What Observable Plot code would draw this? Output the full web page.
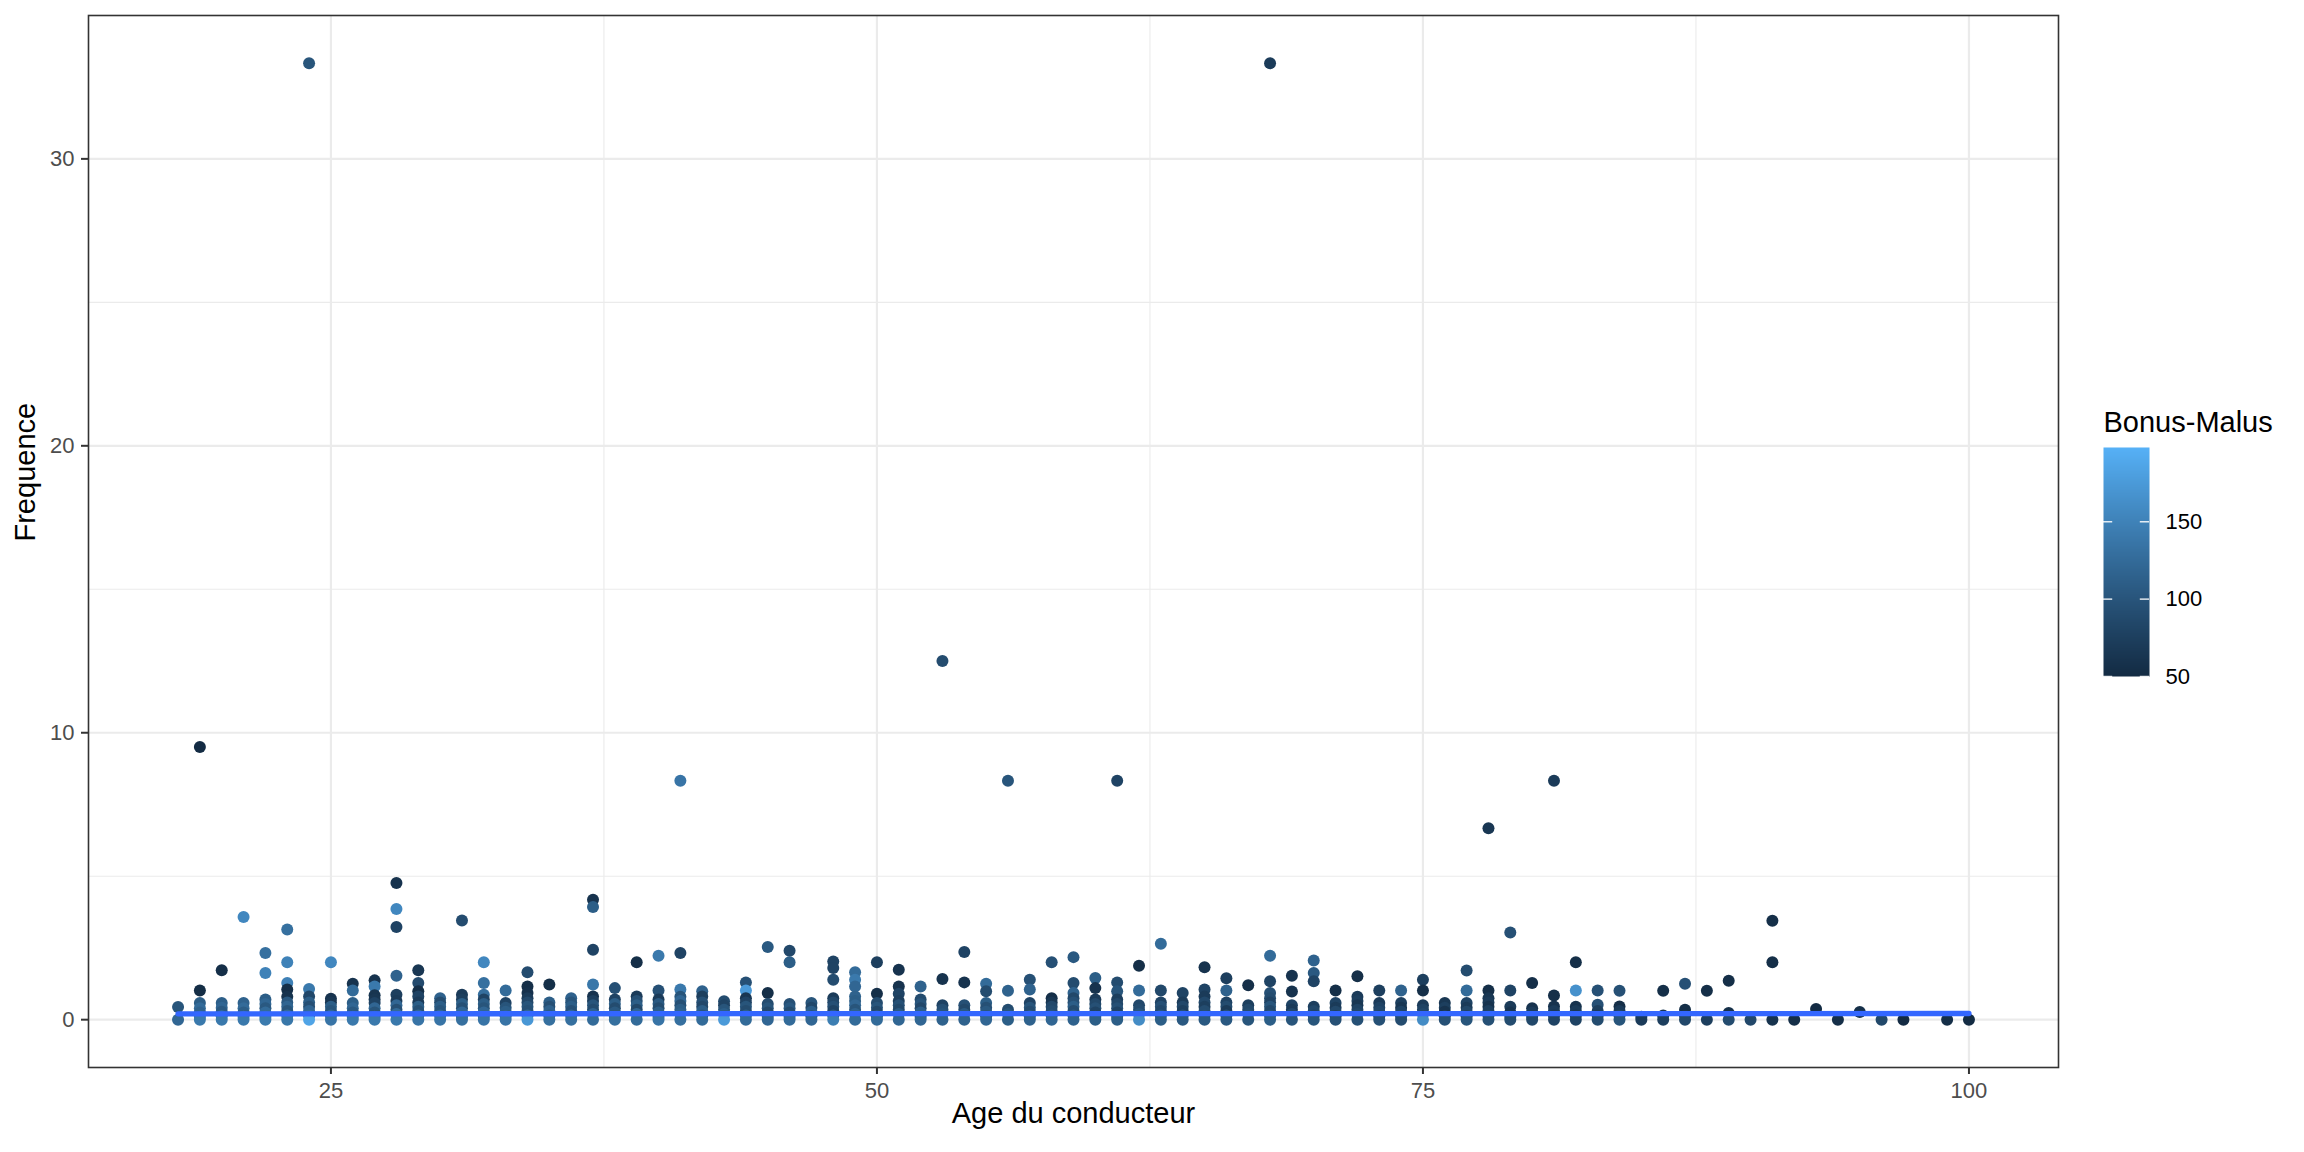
<!DOCTYPE html>
<html><head><meta charset="utf-8">
<script src="https://cdn.jsdelivr.net/npm/d3@7"></script>
<script src="https://cdn.jsdelivr.net/npm/@observablehq/plot@0.6"></script>
<style>
html,body{margin:0;padding:0;background:#fff;}
#wrap{position:relative;width:2304px;height:1152px;}
#legend{position:absolute;left:2080px;top:390px;}
</style></head><body><div id="wrap"><div id="main"></div><div id="legend"></div></div>
<script>
// Age du conducteur (one entry per column of points)
const ages = [18,19,20,21,22,23,24,25,26,27,28,29,30,31,32,33,34,35,36,37,38,39,40,41,42,43,44,45,46,47,48,49,50,51,52,53,54,55,56,57,58,59,60,61,62,63,64,65,66,67,68,69,70,71,72,73,74,75,76,77,78,79,80,81,82,83,84,85,86,87,88,89,90,91,92,93,94,95,96,97,99,100];
// Frequence values for each age
const freqByAge = [
 [0.44,0],
 [9.5,1.02,0.58,0.4,0.25,0.1,0],
 [1.72,0.58,0.42,0.28,0.12,0],
 [3.58,0.58,0.4,0.25,0.1,0],
 [2.32,1.63,0.7,0.55,0.4,0.25,0.1,0],
 [3.14,2.0,1.28,1.05,0.8,0.6,0.45,0.3,0.15,0],
 [33.33,1.07,0.81,0.6,0.45,0.3,0.15,0],
 [2.0,0.73,0.6,0.45,0.3,0.15,0],
 [1.25,1.02,0.58,0.4,0.25,0.1,0],
 [1.37,1.16,0.85,0.7,0.58,0.4,0.25,0.1,0],
 [4.76,3.86,3.23,1.53,0.87,0.65,0.5,0.35,0.2,0],
 [1.72,1.28,0.99,0.81,0.6,0.45,0.3,0.15,0],
 [0.75,0.6,0.45,0.3,0.15,0],
 [3.46,0.87,0.7,0.55,0.4,0.25,0.1,0],
 [2.0,1.28,0.87,0.7,0.55,0.4,0.25,0.1,0],
 [1.02,0.58,0.42,0.28,0.12,0],
 [1.65,1.16,0.93,0.75,0.6,0.45,0.3,0.15,0],
 [1.23,0.6,0.45,0.3,0.15,0],
 [0.75,0.6,0.45,0.3,0.15,0],
 [4.18,3.93,2.44,1.23,0.81,0.65,0.5,0.35,0.2,0],
 [1.1,0.7,0.55,0.4,0.25,0.1,0],
 [2.0,0.81,0.65,0.5,0.35,0.2,0],
 [2.23,1.02,0.7,0.55,0.4,0.25,0.1,0],
 [8.33,2.32,1.05,0.8,0.65,0.5,0.35,0.2,0],
 [0.99,0.81,0.6,0.45,0.3,0.15,0],
 [0.64,0.5,0.35,0.2,0],
 [1.3,1.02,0.75,0.6,0.45,0.3,0.15,0],
 [2.53,0.93,0.55,0.4,0.25,0.1,0],
 [2.4,2.0,0.55,0.4,0.25,0.1,0],
 [0.58,0.42,0.28,0.12,0],
 [2.03,1.8,1.39,0.75,0.6,0.45,0.3,0.15,0],
 [1.65,1.39,1.16,0.81,0.65,0.5,0.35,0.2,0],
 [2.0,0.9,0.58,0.42,0.28,0.12,0],
 [1.74,1.16,0.9,0.65,0.5,0.35,0.2,0],
 [1.16,0.7,0.55,0.4,0.25,0.1,0],
 [12.5,1.42,0.5,0.35,0.2,0],
 [2.36,1.3,0.5,0.35,0.2,0],
 [1.25,0.99,0.58,0.42,0.28,0.12,0],
 [8.33,1.01,0.35,0.2,0],
 [1.39,1.05,0.58,0.42,0.28,0.12,0],
 [2.0,0.75,0.6,0.45,0.3,0.15,0],
 [2.18,1.28,0.93,0.75,0.6,0.45,0.3,0.15,0],
 [1.45,1.1,0.7,0.55,0.4,0.25,0.1,0],
 [8.33,1.3,0.99,0.7,0.55,0.4,0.25,0.1,0],
 [1.88,1.02,0.5,0.35,0.2,0],
 [2.65,1.02,0.6,0.45,0.3,0.15,0],
 [0.93,0.6,0.45,0.3,0.15,0],
 [1.83,1.05,0.81,0.6,0.45,0.3,0.15,0],
 [1.44,1.02,0.6,0.45,0.3,0.15,0],
 [1.2,0.5,0.35,0.2,0],
 [33.33,2.23,1.34,0.93,0.75,0.6,0.45,0.3,0.15,0],
 [1.53,0.98,0.5,0.35,0.2,0],
 [2.06,1.63,1.34,0.45,0.3,0.15,0],
 [1.02,0.58,0.42,0.28,0.12,0],
 [1.51,0.8,0.65,0.5,0.35,0.2,0],
 [1.02,0.58,0.42,0.28,0.12,0],
 [1.02,0.58,0.42,0.28,0.12,0],
 [1.39,1.02,0.5,0.35,0.2,0],
 [0.58,0.42,0.28,0.12,0],
 [1.71,1.02,0.58,0.42,0.28,0.12,0],
 [6.67,1.02,0.75,0.6,0.45,0.3,0.15,0],
 [3.04,1.02,0.45,0.25,0.1,0],
 [1.28,0.4,0.25,0.1,0],
 [8.33,0.84,0.46,0.3,0.15,0],
 [2.0,1.02,0.45,0.3,0.15,0],
 [1.02,0.52,0.3,0.15,0],
 [1.01,0.46,0.3,0.15,0],
 [0.1,0],
 [1.01,0.15,0],
 [1.25,0.35,0.15,0],
 [1.01,0],
 [1.36,0.23,0],
 [0],
 [3.45,2.0,0],
 [0],
 [0.37],
 [0],
 [0.27],
 [0],
 [0],
 [0],
 [0]
];
// Bonus-Malus values, matching freqByAge
const bmByAge = [
 [100,120],
 [50,52,110,125,115,130,140],
 [55,112,120,105,130,140],
 [155,115,125,110,135,140],
 [130,150,110,120,105,125,135,142],
 [130,150,148,55,60,105,118,100,125,138],
 [100,140,85,110,95,120,125,185],
 [155,60,65,110,100,120,135],
 [60,125,110,120,105,130,140],
 [60,140,62,65,80,120,100,125,140],
 [60,155,80,115,75,70,120,95,125,140],
 [65,88,55,80,70,110,95,120,135],
 [115,90,110,100,120,135],
 [90,70,75,110,95,120,115,130],
 [155,130,128,80,110,100,120,115,135],
 [125,80,100,110,120,135],
 [90,55,58,70,85,100,95,120,172],
 [55,110,95,115,105,130],
 [115,100,110,95,120,130],
 [60,110,80,138,60,75,100,90,115,125],
 [95,80,110,90,105,115,130],
 [55,70,95,110,85,120,125],
 [140,95,70,105,90,110,120,135],
 [135,80,140,100,120,95,110,115,130],
 [115,75,95,85,110,100,125],
 [90,80,100,110,175],
 [95,175,65,80,100,90,110,125],
 [105,55,90,100,85,110,120],
 [85,110,95,105,90,115,125],
 [100,85,110,95,120],
 [80,80,90,70,85,95,80,105,145],
 [125,140,120,115,110,120,100,115,125],
 [75,55,90,100,85,110,125],
 [60,60,80,75,95,85,105,120],
 [115,90,100,85,110,95,120],
 [90,60,80,95,100,115],
 [80,60,95,85,105,115],
 [125,90,110,95,105,100,120],
 [100,115,90,100,110],
 [95,115,80,100,90,110,115],
 [95,55,65,85,90,100,120],
 [105,90,115,85,95,110,90,105,115],
 [110,60,70,85,95,80,100,110],
 [80,90,100,75,85,95,80,100,110],
 [55,125,85,90,100,160],
 [125,85,80,95,85,100,110],
 [80,70,85,75,95,105],
 [60,80,70,85,75,90,95,105],
 [75,115,80,90,70,95,105],
 [55,75,85,90,100],
 [70,125,80,95,90,80,100,85,95,110],
 [60,60,80,70,85,100],
 [115,105,80,75,85,80,100],
 [55,80,70,85,75,95],
 [55,70,75,65,80,85,95],
 [75,70,80,85,75,95],
 [115,75,65,80,85,90],
 [75,55,70,80,85,160],
 [65,75,60,80,95],
 [90,125,80,70,85,75,100],
 [65,55,65,70,60,75,80,95],
 [95,80,70,60,80,90],
 [55,60,70,75,85],
 [70,55,60,70,65,80],
 [55,165,60,70,65,80],
 [95,95,75,70,90],
 [95,55,70,80,100],
 [60,70],
 [55,60,75],
 [95,55,60,85],
 [55,75],
 [55,55,90],
 [85],
 [55,55,60],
 [55],
 [50],
 [55],
 [55],
 [85],
 [50],
 [55],
 [50]
];
// Fitted trend (geom_smooth)
const smoothAge = [18, 100];
const smoothFreq = [0.205, 0.215];
// Tick values
const xTicks = [25, 50, 75, 100];
const xMinor = [37.5, 62.5, 87.5];
const yTicks = [0, 10, 20, 30];
const yMinor = [5, 15, 25];
const bmTicks = [50, 100, 150];
const bmRange = [50, 198];

const points = ages.flatMap((a, i) => freqByAge[i].map((f, j) => ({age: a, freq: f, bm: bmByAge[i][j]})));
const smooth = smoothAge.map((a, i) => ({age: a, freq: smoothFreq[i]}));

const expand = ([lo, hi]) => [lo - (hi - lo) * 0.05, hi + (hi - lo) * 0.05];
const xDom = expand(d3.extent(points, d => d.age));
const yDom = expand(d3.extent(points, d => d.freq));

const font = "'Liberation Sans', Arial, Helvetica, sans-serif";
const colorOpts = {type: "linear", domain: bmRange, range: ["#132B43", "#56B1F7"], interpolate: "lab"};
const grid = "#EBEBEB";

const chart = Plot.plot({
  width: 2304, height: 1152,
  marginLeft: 88, marginRight: 246, marginTop: 15, marginBottom: 85,
  style: {fontFamily: font, background: "white", overflow: "visible"},
  x: {domain: xDom},
  y: {domain: yDom},
  color: colorOpts,
  marks: [
    Plot.gridX(xMinor, {stroke: grid, strokeOpacity: 1, strokeWidth: 1.1}),
    Plot.gridY(yMinor, {stroke: grid, strokeOpacity: 1, strokeWidth: 1.1}),
    Plot.gridX(xTicks, {stroke: grid, strokeOpacity: 1, strokeWidth: 2.2}),
    Plot.gridY(yTicks, {stroke: grid, strokeOpacity: 1, strokeWidth: 2.2}),
    Plot.dot(points, {x: "age", y: "freq", fill: "bm", r: 6}),
    Plot.line(smooth, {x: "age", y: "freq", stroke: "#3366FF", strokeWidth: 5.3}),
    Plot.frame({stroke: "#333333", strokeWidth: 1.6}),
    Plot.axisX(xTicks, {tickSize: 7, tickPadding: 8, strokeWidth: 2, stroke: "#333333", fill: "#4D4D4D", fontSize: 22, label: null}),
    Plot.axisY(yTicks, {tickSize: 7, tickPadding: 7, strokeWidth: 2, stroke: "#333333", fill: "#4D4D4D", fontSize: 22, label: null}),
    Plot.text(["Age du conducteur"], {frameAnchor: "bottom", dy: 55, fontSize: 29, fill: "black"}),
    Plot.text(["Frequence"], {frameAnchor: "left", dx: -63, rotate: -90, fontSize: 29, fill: "black"})
  ]
});
document.getElementById("main").appendChild(chart);

const legend = Plot.plot({
  width: 224, height: 320,
  marginLeft: 23, marginRight: 155, marginTop: 57, marginBottom: 34,
  style: {fontFamily: font, background: "transparent", overflow: "visible"},
  x: {domain: [0, 1], axis: null},
  y: {domain: bmRange, axis: null},
  color: colorOpts,
  marks: [
    Plot.raster({x1: 0, x2: 1, y1: bmRange[0], y2: bmRange[1], width: 1, height: 229, fill: (x, y) => y}),
    Plot.ruleY(bmTicks, {x1: 0, x2: 0.2, stroke: "white", strokeWidth: 1.5, strokeOpacity: 0.85}),
    Plot.ruleY(bmTicks, {x1: 0.8, x2: 1, stroke: "white", strokeWidth: 1.5, strokeOpacity: 0.85}),
    Plot.axisY(bmTicks, {anchor: "right", tickSize: 0, tickPadding: 16, fontSize: 22, fill: "black", label: null}),
    Plot.text(["Bonus-Malus"], {frameAnchor: "top-left", textAnchor: "start", lineAnchor: "bottom", dy: -16, fontSize: 29, fill: "black"})
  ]
});
document.getElementById("legend").appendChild(legend);
</script></body></html>
